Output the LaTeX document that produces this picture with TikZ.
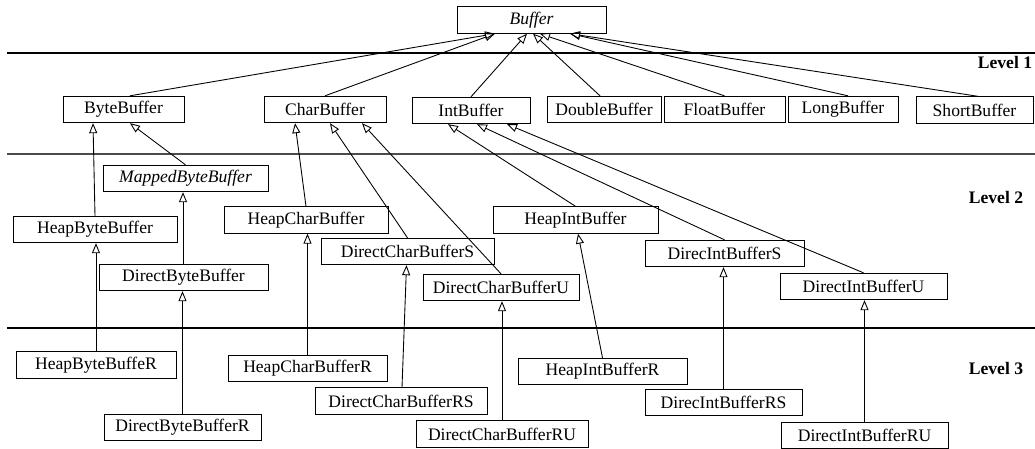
\documentclass[tikz,border=0pt]{standalone}
\usepackage{fontspec}
\setmainfont{Liberation Serif}
\usetikzlibrary{arrows.meta,positioning}
\tikzset{
    %Define standard arrow tip
    >={Triangle[open,length=2mm,width=1.6mm]},
    %Define style for class boxes
    cls/.style={
           rectangle,
           draw=black, line width=0.5pt,
           minimum height=0.53cm,
           inner sep=0pt,
           font=\fontsize{10}{12}\selectfont,
           text centered},
    abstr/.style={cls, font=\fontsize{10}{12}\selectfont\itshape},
    % Define arrow style
    inh/.style={->, line width=0.5pt},
    lvl/.style={font=\fontsize{10}{12}\selectfont\bfseries},
    sep/.style={line width=0.6pt}
}
\begin{document}
\begin{tikzpicture}[x=0.02cm,y=-0.02cm]
\useasboundingbox (0,0) rectangle (1035,449);
% level lines
\draw[sep] (7,53) -- (1035,53);
\draw[sep, black!70, line width=0.9pt] (7,154) -- (1035,154);
\draw[sep] (7,328) -- (1035,328);
\node[lvl] (l1) at (1005,62) {Level 1};
\node[lvl] (l2) at (996,197) {Level 2};
\node[lvl] (l3) at (996,368) {Level 3};
% root
\node[abstr, minimum width=2.98cm] (buf) at (531.5,20) {Buffer};
% level 1
\node[cls, minimum width=2.42cm] (bb) at (123.5,109.5) {ByteBuffer};
\node[cls, minimum width=2.44cm] (cb) at (325,109.5) {CharBuffer};
\node[cls, minimum width=2.36cm] (ib) at (471,110.5) {IntBuffer};
\node[cls, minimum width=2.28cm] (db) at (604,109.5) {DoubleBuffer};
\node[cls, minimum width=2.42cm] (fb) at (724.5,109.5) {FloatBuffer};
\node[cls, minimum width=2.2cm] (lb) at (843,109.5) {LongBuffer};
\node[cls, minimum width=2.34cm] (sb) at (974.5,110) {ShortBuffer};
% level 2
\node[abstr, minimum width=3.3cm] (mbb) at (185.5,178.5) {MappedByteBuffer};
\node[cls, minimum width=3.28cm] (hbb) at (95,229.5) {HeapByteBuffer};
\node[cls, minimum width=3.38cm] (dbb) at (183.5,277.5) {DirectByteBuffer};
\node[cls, minimum width=3.28cm] (hcb) at (306,220) {HeapCharBuffer};
\node[cls, minimum width=3.46cm] (dcbs) at (407.5,251.5) {DirectCharBufferS};
\node[cls, minimum width=3.12cm] (dcbu) at (501,287.5) {DirectCharBufferU};
\node[cls, minimum width=3.3cm] (hib) at (575.5,220) {HeapIntBuffer};
\node[cls, minimum width=3.18cm] (dibs) at (724.5,253.5) {DirecIntBufferS};
\node[cls, minimum width=3.34cm] (diu) at (863.5,286.5) {DirectIntBufferU};
% level 3
\node[cls, minimum width=3.2cm] (hbbr) at (96,365) {HeapByteBuffeR};
\node[cls, minimum width=3.14cm] (dbbr) at (182.5,427.5) {DirectByteBufferR};
\node[cls, minimum width=3.18cm] (hcbr) at (307.5,368.5) {HeapCharBufferR};
\node[cls, minimum width=3.44cm] (dcbrs) at (401,401) {DirectCharBufferRS};
\node[cls, minimum width=3.44cm] (dcbru) at (502,434) {DirectCharBufferRU};
\node[cls, minimum width=3.38cm] (hibr) at (602.5,371.5) {HeapIntBufferR};
\node[cls, minimum width=3.14cm] (dibrs) at (723.5,402.5) {DirecIntBufferRS};
\node[cls, minimum width=3.34cm] (dibru) at (864.5,435.5) {DirectIntBufferRU};
% inheritance, level 1
\draw[inh] ([xshift=0.13cm]bb.north) -- ([xshift=-0.73cm]buf.south);
\draw[inh] (cb.north) -- ([xshift=-0.73cm]buf.south);
\draw[inh] (ib.north) -- ([xshift=-0.09cm]buf.south);
\draw[inh] ([xshift=-0.08cm]db.north) -- ([xshift=0.03cm]buf.south);
\draw[inh] (fb.north) -- ([xshift=0.17cm]buf.south);
\draw[inh] ([xshift=0.1cm]lb.north) -- ([xshift=0.77cm]buf.south);
\draw[inh] ([xshift=0.07cm]sb.north) -- ([xshift=0.77cm]buf.south);
% inheritance, level 2
\draw[inh] (hbb.north) -- ([xshift=-0.61cm]bb.south);
\draw[inh] (mbb.north) -- ([xshift=0.13cm]bb.south);
\draw[inh] ([xshift=-0.01cm]dbb.north) -- ([xshift=-0.01cm]dbb.north |- mbb.south);
\draw[inh] (hcb.north) -- ([xshift=-0.6cm]cb.south);
\draw[inh] (dcbs.north) -- ([xshift=0.1cm]cb.south);
\draw[inh] (dcbu.north) -- ([xshift=0.74cm]cb.south);
\draw[inh] (hib.north) -- ([xshift=-0.46cm]ib.south);
\draw[inh] (dibs.north) -- ([xshift=0.12cm]ib.south);
\draw[inh] (diu.north) -- ([xshift=0.72cm]ib.south);
% inheritance, level 3
\draw[inh] (hbbr.north) -- (hbbr.north |- hbb.south);
\draw[inh] (dbbr.north) -- (dbbr.north |- dbb.south);
\draw[inh] (hcbr.north) -- (hcbr.north |- hcb.south);
\draw[inh] ([xshift=0.02cm]dcbrs.north) -- ([xshift=-0.02cm]dcbs.south);
\draw[inh] (dcbru.north) -- (dcbru.north |- dcbu.south);
\draw[inh] (hibr.north) -- ([xshift=0.05cm]hib.south);
\draw[inh] (dibrs.north) -- (dibrs.north |- dibs.south);
\draw[inh] (dibru.north) -- (dibru.north |- diu.south);
\end{tikzpicture}
\end{document}
